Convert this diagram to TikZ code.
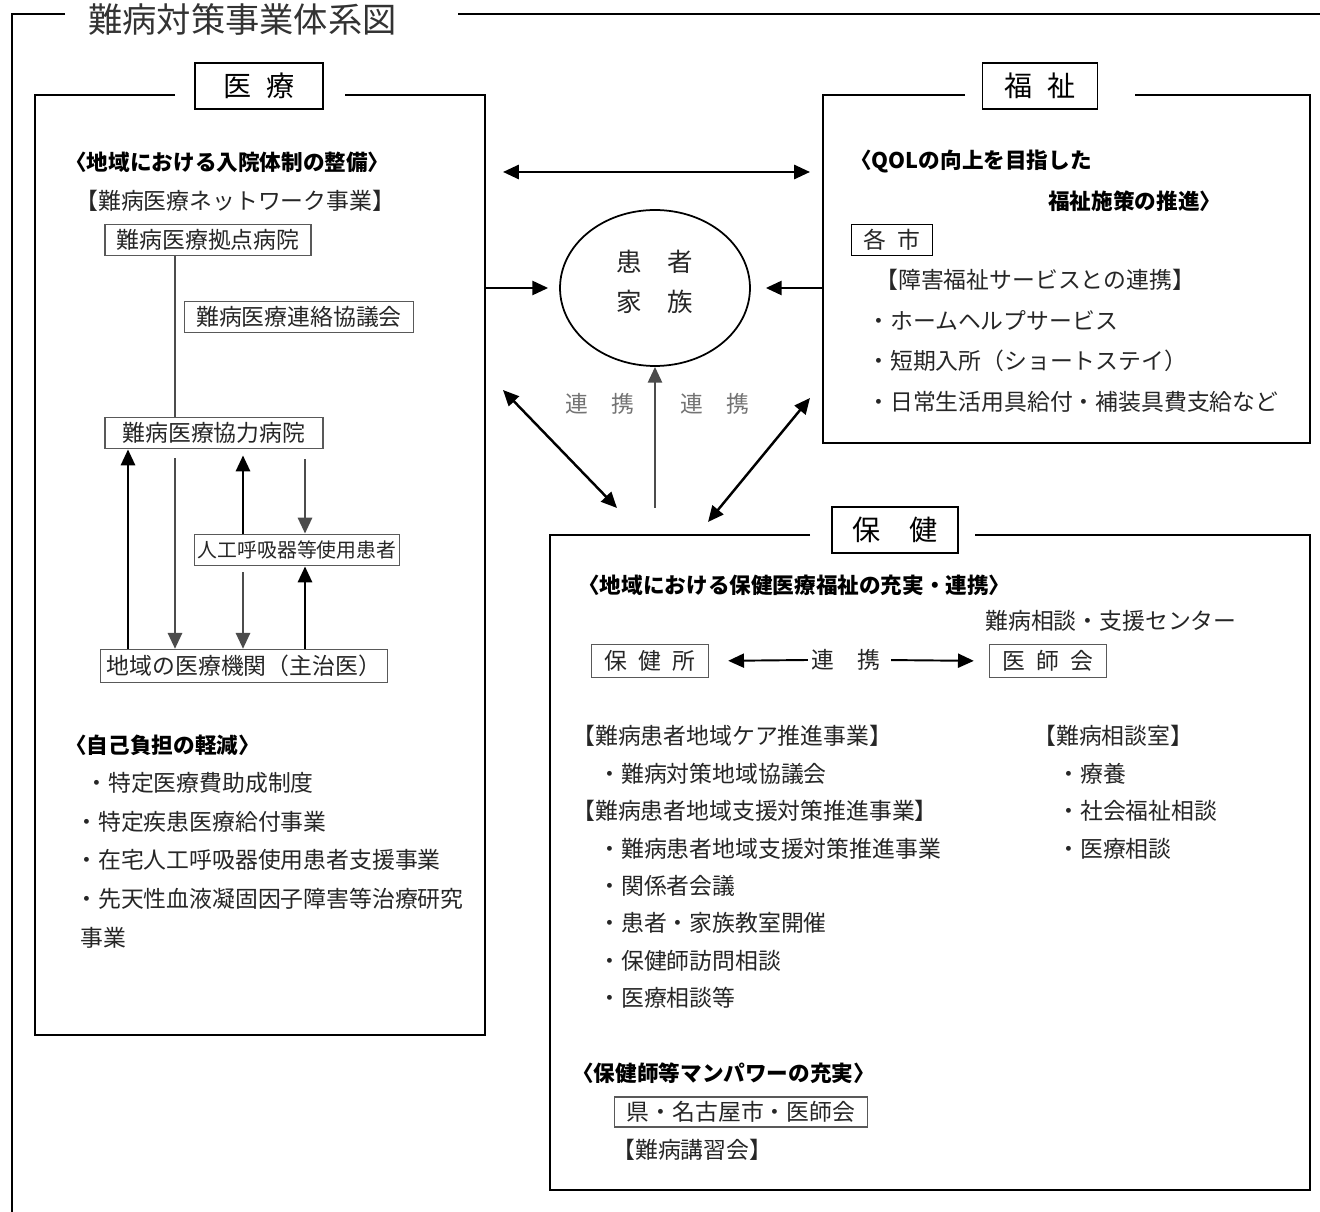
\documentclass[tikz,border=0pt]{standalone}
\usepackage{fontspec}
\setmainfont{Noto Sans CJK JP}
\usetikzlibrary{arrows.meta,shapes}
\newcommand{\jsp}{\hspace{.5em}}
\tikzset{frm/.style={line width=1.1pt},ttl/.style={draw,line width=.8pt,inner sep=0pt,minimum height=.92cm,font=\fontsize{16}{16}\selectfont},box/.style={draw=black!65,line width=.8pt,inner sep=0pt,minimum height=.63cm,text=black!85,font=\fontsize{13}{13}\selectfont},txt/.style={anchor=west,inner sep=0pt,text=black!85,font=\fontsize{13}{13}\selectfont},hd/.style={anchor=west,inner sep=0pt,font=\fontsize{12.3}{12.3}\selectfont\bfseries},lbl/.style={inner sep=0pt,text=black!55,font=\fontsize{13}{13}\selectfont}}
\tikzset{arr/.style={line width=1.4pt,-{Triangle[length=9pt,width=8pt]}},darr/.style={line width=1.4pt,{Triangle[length=9pt,width=8pt]}-{Triangle[length=9pt,width=8pt]}}}

\begin{document}
\begin{tikzpicture}[x=.02cm,y=-.02cm]
\useasboundingbox (0,0) rectangle (1320,1212);
% outer frame
\node[anchor=west,inner sep=0pt,text=black!80,font=\fontsize{19.5}{19.5}\selectfont] (title) at (88,19) {難病対策事業体系図};
\draw[frm] (65,14) -- (12,14) -- (12,1212);
\draw[frm] (458,14) -- (1320,14);
% frames
\draw[frm] (175,95) -| (35,1035) -| (485,95) -- (345,95);
\draw[frm] (965,95) -| (823,443) -| (1310,95) -- (1135,95);
\draw[frm] (810,535) -| (550,1190) -| (1310,535) -- (975,535);
\node[ttl,minimum width=2.56cm] (iryo) at (259,86) {医\jsp 療};
\node[ttl,minimum width=2.3cm] (fukushi) at (1040,86) {福\jsp 祉};
\node[ttl,minimum width=2.52cm] (hoken) at (895,530) {保\quad 健};
% center
\node[draw,ellipse,line width=1pt,minimum width=3.8cm,minimum height=3.12cm,inner sep=0pt] (kanja) at (655,288) {};
\node[align=center,inner sep=0pt,text=black!85,font=\fontsize{14.5}{22.7}\selectfont] (kanjaT) at (655,282) {患\quad 者\\家\quad 族};
\node[lbl] (rl) at (600,404) {連\quad 携};
\node[lbl] (rr) at (715,404) {連\quad 携};
\coordinate (iryoN) at (485,172);
\coordinate (fukuN) at (823,172);
\coordinate (iryoE) at (485,288);
\coordinate (fukuW) at (823,288);
\coordinate (hokenN) at (655,508);
\coordinate (dl1) at (503,390);
\coordinate (dl2) at (617,508);
\coordinate (dr1) at (810,398);
\coordinate (dr2) at (708,522);
\draw[darr,shorten <=.36cm,shorten >=.26cm] (iryoN) -- (fukuN);
\draw[arr,shorten >=.22cm] (iryoE) -- (kanja);
\draw[arr,shorten >=.3cm] (fukuW) -- (kanja);
\draw[arr,black!70] (hokenN) -- (kanja);
\draw[darr] (dl1) -- (dl2);
\draw[darr] (dr1) -- (dr2);
% iryo
\node[hd] (h1) at (65,162) {〈地域における入院体制の整備〉};
\node[txt] (net) at (75,201) {【難病医療ネットワーク事業】};
\node[box,minimum width=4.12cm] (kyoten) at (208,240) {難病医療拠点病院};
\node[box,minimum width=4.58cm] (renraku) at (299,317) {難病医療連絡協議会};
\node[box,minimum width=4.36cm] (kyoryoku) at (214,433) {難病医療協力病院};
\node[box,minimum width=4.1cm,font=\fontsize{11.3}{11.3}\selectfont] (jinko) at (297,550) {人工呼吸器等使用患者};
\node[box,minimum width=5.74cm,minimum height=.66cm] (chiiki) at (244,666) {地域の医療機関（主治医）};
\coordinate (c1) at (128,0);
\coordinate (c2) at (175,0);
\coordinate (c3) at (243,0);
\coordinate (c4) at (305,0);
\draw[line width=1pt,black!70] (kyoten.south -| c2) -- (kyoryoku.north -| c2);
\draw[arr] (chiiki.north -| c1) -- (kyoryoku.south -| c1);
\draw[arr,black!70,shorten <=.18cm] (kyoryoku.south -| c2) -- (chiiki.north -| c2);
\draw[arr,shorten >=.12cm] (jinko.north -| c3) -- (kyoryoku.south -| c3);
\draw[arr,black!70,shorten <=.2cm] (kyoryoku.south -| c4) -- (jinko.north -| c4);
\draw[arr,black!70,shorten <=.12cm] (jinko.south -| c3) -- (chiiki.north -| c3);
\draw[arr] (chiiki.north -| c4) -- (jinko.south -| c4);
\node[hd] (h2) at (65,745) {〈自己負担の軽減〉};
\node[txt] (m1) at (85,783) {・特定医療費助成制度};
\node[txt] (m2) at (75,822) {・特定疾患医療給付事業};
\node[txt] (m3) at (75,860) {・在宅人工呼吸器使用患者支援事業};
\node[txt] (m4) at (75,899) {・先天性血液凝固因子障害等治療研究};
\node[txt] (m5) at (80,938) {事業};
% fukushi
\node[hd] (h3) at (850,162) {〈QOLの向上を目指した};
\node[hd] (h4) at (1048,201) {福祉施策の推進〉};
\node[box,draw=black,minimum width=1.62cm] (kakushi) at (892,240) {各\jsp 市};
\node[txt] (svc) at (875,280) {【障害福祉サービスとの連携】};
\node[txt] (f1) at (867,321) {・ホームヘルプサービス};
\node[txt] (f2) at (867,361) {・短期入所（ショートステイ）};
\node[txt] (f3) at (867,402) {・日常生活用具給付・補装具費支給など};
% hoken
\node[hd] (h5) at (578,585) {〈地域における保健医療福祉の充実・連携〉};
\node[txt] (ctr) at (985,621) {難病相談・支援センター};
\node[box,minimum width=2.34cm,minimum height=.66cm] (hokenjo) at (650,661) {保\jsp 健\jsp 所};
\node[box,minimum width=2.34cm,minimum height=.66cm] (ishikai) at (1048,661) {医\jsp 師\jsp 会};
\node[lbl,text=black!85,inner xsep=2pt] (rk) at (846,660) {連\quad 携};
\draw[arr,line width=1.1pt,shorten >=.38cm] (rk.west) -- (hokenjo.east);
\draw[arr,line width=1.1pt,shorten <=.14cm,shorten >=.3cm] (rk.east) -- (ishikai.west);
\node[txt] (k1) at (572,736) {【難病患者地域ケア推進事業】};
\node[txt] (k2) at (598,774) {・難病対策地域協議会};
\node[txt] (k3) at (572,811) {【難病患者地域支援対策推進事業】};
\node[txt] (k4) at (598,849) {・難病患者地域支援対策推進事業};
\node[txt] (k5) at (598,886) {・関係者会議};
\node[txt] (k6) at (598,923) {・患者・家族教室開催};
\node[txt] (k7) at (598,961) {・保健師訪問相談};
\node[txt] (k8) at (598,998) {・医療相談等};
\node[txt] (s1) at (1033,736) {【難病相談室】};
\node[txt] (s2) at (1057,774) {・療養};
\node[txt] (s3) at (1057,811) {・社会福祉相談};
\node[txt] (s4) at (1057,849) {・医療相談};
\node[hd] (h6) at (572,1073) {〈保健師等マンパワーの充実〉};
\node[box,minimum width=5.06cm,minimum height=.6cm] (ken) at (741,1112) {県・名古屋市・医師会};
\node[txt] (kosyu) at (612,1150) {【難病講習会】};
\end{tikzpicture}
\end{document}
